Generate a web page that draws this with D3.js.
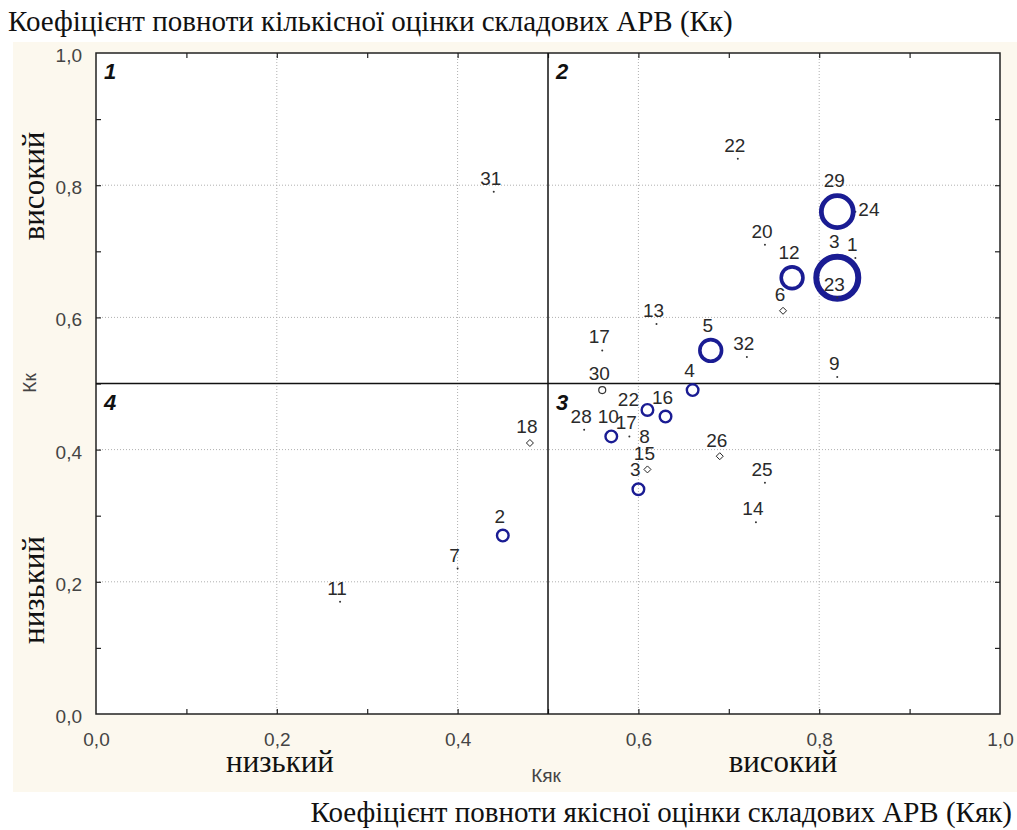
<!DOCTYPE html>
<html>
<head>
<meta charset="utf-8">
<script src="https://cdn.jsdelivr.net/npm/d3@7"></script>
<style>
  body { margin: 0; background: #ffffff; }
  svg { display: block; }
</style>
</head>
<body>
<svg id="chart" width="1017" height="830"></svg>
<script>
// ---- Data ----
const pointLabels = ["1","2","3","3","4","5","6","7","8","9","10","11","12","13","14","15","16","17","17","18","20","22","22","23","24","25","26","28","29","30","31","32"];
const kyakValues  = [0.84,0.45,0.82,0.60,0.66,0.68,0.76,0.40,0.61,0.82,0.57,0.27,0.77,0.62,0.73,0.61,0.63,0.56,0.59,0.48,0.74,0.71,0.61,0.82,0.84,0.74,0.69,0.54,0.82,0.56,0.44,0.72];
const kkValues    = [0.69,0.27,0.66,0.34,0.49,0.55,0.61,0.22,0.40,0.51,0.42,0.17,0.66,0.59,0.29,0.37,0.45,0.55,0.42,0.41,0.71,0.84,0.46,0.63,0.76,0.35,0.39,0.43,0.76,0.49,0.79,0.54];
// marker kind and bubble weight (0 = plain point)
const markerKinds = ["dot","bubble","bubble","bubble","bubble","bubble","diamond","dot","dot","dot","bubble","dot","bubble","dot","dot","diamond","bubble","dot","dot","diamond","dot","dot","bubble","dot","dot","dot","diamond","dot","bubble","ring","dot","dot"];
const bubbleWeights = [0,1,4,1,1,2,0,0,0,0,1,0,2,0,0,0,1,0,0,0,0,0,1,0,0,0,0,0,3,0,0,0];
const labelPlacement = ["t","t","t","t","t","t","t","t","t","t","t","t","t","t","t","t","t","t","t","t","t","t","tl","t","r","t","t","t","t","t","t","t"];
const tickValues = [0, 0.2, 0.4, 0.6, 0.8, 1.0];
const minorTicks = [0.1,0.2,0.3,0.4,0.5,0.6,0.7,0.8,0.9];
const quadrantLabels = ["1","2","3","4"];
const quadrantCorners = [[0,1],[0.5,1],[0.5,0.5],[0,0.5]];
const splitValue = 0.5;
const titleTop = "Коефіцієнт повноти кількісної оцінки складових АРВ (Кк)";
const titleBottom = "Коефіцієнт повноти якісної оцінки складових АРВ (Кяк)";
const xAxisName = "Кяк", yAxisName = "Кк";
const levelLow = "низький", levelHigh = "високий";

// ---- Layout ----
const svg = d3.select("#chart");
const L = 96, R = 1000, T = 53, B = 714;
const x = d3.scaleLinear().domain([0,1]).range([L,R]);
const y = d3.scaleLinear().domain([0,1]).range([B,T]);
const rScale = d3.scaleLinear().domain([1,4]).range([5.8,21]);
const swScale = d3.scaleLinear().domain([1,4]).range([2.4,6]);
const fmt = v => d3.format(".1f")(v).replace(".", ",");
const blue = "#1a1c93";
const serif = "'Liberation Serif','Times New Roman',serif";
const sans = "'Liberation Sans',Arial,sans-serif";

// background
svg.append("rect").attr("x",13).attr("y",42).attr("width",1004).attr("height",750).attr("fill","#fcf8ee");
svg.append("rect").attr("x",L).attr("y",T).attr("width",R-L).attr("height",B-T).attr("fill","#ffffff");

// grid
const grid = svg.append("g").attr("stroke","#b0b0b0").attr("stroke-width",1).attr("stroke-dasharray","1,2");
tickValues.filter(v => v>0 && v<1).forEach(v => {
  grid.append("line").attr("x1",x(v)).attr("x2",x(v)).attr("y1",T).attr("y2",B);
  grid.append("line").attr("x1",L).attr("x2",R).attr("y1",y(v)).attr("y2",y(v));
});

// axes with inward ticks on all four sides
const axB = d3.axisBottom(x).tickValues(minorTicks).tickSize(-5).tickFormat("");
const axT = d3.axisTop(x).tickValues(minorTicks).tickSize(-5).tickFormat("");
const axL = d3.axisLeft(y).tickValues(minorTicks).tickSize(-5).tickFormat("");
const axR = d3.axisRight(y).tickValues(minorTicks).tickSize(-5).tickFormat("");
[[axB,`translate(0,${B})`],[axT,`translate(0,${T})`],[axL,`translate(${L},0)`],[axR,`translate(${R},0)`]].forEach(([a,t])=>{
  const g = svg.append("g").attr("transform",t).call(a);
  g.select(".domain").remove();
  g.selectAll("line").attr("stroke","#222").attr("stroke-width",1.2);
});

// tick labels
const xl = d3.axisBottom(x).tickValues(tickValues).tickSize(0).tickPadding(0).tickFormat(fmt);
const gx = svg.append("g").attr("transform",`translate(0,${B})`).call(xl);
gx.select(".domain").remove();
gx.selectAll("text").attr("dy",null).attr("y",32).attr("font-family",sans).attr("font-size",19).attr("fill","#444");
const yl = d3.axisLeft(y).tickValues(tickValues).tickSize(0).tickPadding(14).tickFormat(fmt);
const gy = svg.append("g").attr("transform",`translate(${L},0)`).call(yl);
gy.select(".domain").remove();
gy.selectAll("text").attr("dy",null).attr("y",8.5).attr("font-family",sans).attr("font-size",19).attr("fill","#444");

// frame
svg.append("rect").attr("x",L).attr("y",T).attr("width",R-L).attr("height",B-T)
  .attr("fill","none").attr("stroke","#222").attr("stroke-width",1.5);

// quadrant split lines
svg.append("line").attr("x1",x(splitValue)).attr("x2",x(splitValue)).attr("y1",T).attr("y2",B).attr("stroke","#111").attr("stroke-width",1.5);
svg.append("line").attr("x1",L).attr("x2",R).attr("y1",y(splitValue)).attr("y2",y(splitValue)).attr("stroke","#111").attr("stroke-width",1.5);

// quadrant labels
quadrantLabels.forEach((q,i)=>{
  svg.append("text").attr("x",x(quadrantCorners[i][0])+8).attr("y",y(quadrantCorners[i][1])+26)
    .attr("font-family",sans).attr("font-size",22).attr("font-weight","bold").attr("font-style","italic")
    .attr("fill","#111").text(q);
});

// points
const pts = pointLabels.map((lab,i)=>({lab, xv:kyakValues[i], yv:kkValues[i], kind:markerKinds[i], w:bubbleWeights[i], pos:labelPlacement[i]}));
const gp = svg.append("g");
pts.forEach(p=>{
  const cx = x(p.xv), cy = y(p.yv);
  let outer = 1;
  if (p.kind === "dot") {
    gp.append("circle").attr("cx",cx).attr("cy",cy).attr("r",1).attr("fill","#333");
  } else if (p.kind === "diamond") {
    const s = 3.5;
    gp.append("path").attr("d",`M${cx},${cy-s}L${cx+s},${cy}L${cx},${cy+s}L${cx-s},${cy}Z`)
      .attr("fill","#fff").attr("stroke","#222").attr("stroke-width",1);
    outer = s;
  } else if (p.kind === "ring") {
    gp.append("circle").attr("cx",cx).attr("cy",cy).attr("r",3.5).attr("fill","#fff").attr("stroke","#333").attr("stroke-width",1.2);
    outer = 4;
  } else {
    const r = rScale(p.w), sw = swScale(p.w);
    gp.append("circle").attr("cx",cx).attr("cy",cy).attr("r",r).attr("fill","none").attr("stroke",blue).attr("stroke-width",sw);
    outer = r + sw/2;
  }
  p.cx = cx; p.cy = cy; p.outer = outer;
});
pts.forEach(p=>{
  const t = gp.append("text").attr("font-family",sans).attr("font-size",19).attr("fill","#2a2a2a").text(p.lab);
  if (p.pos === "r") {
    t.attr("x",p.cx+3).attr("y",p.cy+4).attr("text-anchor","start");
  } else if (p.pos === "tl") {
    t.attr("x",p.cx-p.outer-12).attr("y",p.cy-p.outer+3).attr("text-anchor","middle");
  } else {
    t.attr("x",p.cx-3).attr("y",p.cy-p.outer-6).attr("text-anchor","middle");
  }
});

// axis names
svg.append("text").attr("x",(L+R)/2-2).attr("y",782).attr("text-anchor","middle")
  .attr("font-family",sans).attr("font-size",19).attr("fill","#444").text(xAxisName);
svg.append("text").attr("transform",`translate(36,383) rotate(-90)`).attr("text-anchor","middle")
  .attr("font-family",sans).attr("font-size",19).attr("fill","#444").text(yAxisName);

// level words
svg.append("text").attr("x",280).attr("y",772).attr("text-anchor","middle")
  .attr("font-family",serif).attr("font-size",31).attr("fill","#111").text(levelLow);
svg.append("text").attr("x",783).attr("y",772).attr("text-anchor","middle")
  .attr("font-family",serif).attr("font-size",31).attr("fill","#111").text(levelHigh);
svg.append("text").attr("transform",`translate(44,186) rotate(-90)`).attr("text-anchor","middle")
  .attr("font-family",serif).attr("font-size",31).attr("fill","#111").text(levelHigh);
svg.append("text").attr("transform",`translate(44,590) rotate(-90)`).attr("text-anchor","middle")
  .attr("font-family",serif).attr("font-size",31).attr("fill","#111").text(levelLow);

// titles
svg.append("text").attr("x",8).attr("y",31)
  .attr("font-family",serif).attr("font-size",29).attr("fill","#111").text(titleTop);
svg.append("text").attr("x",1012).attr("y",822).attr("text-anchor","end")
  .attr("font-family",serif).attr("font-size",29).attr("fill","#111").text(titleBottom);
</script>
</body>
</html>
